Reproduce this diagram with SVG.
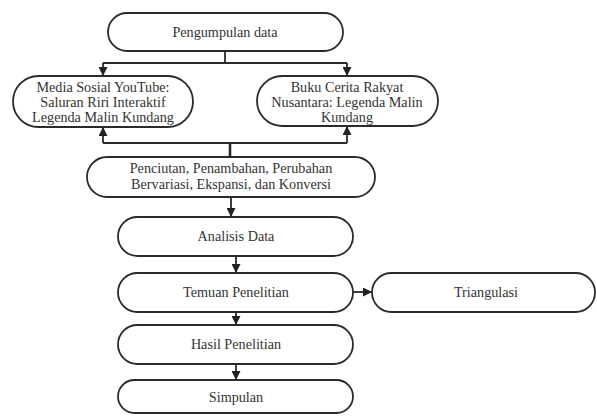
<svg xmlns="http://www.w3.org/2000/svg" width="597" height="416" viewBox="0 0 597 416">
<defs>
<marker id="ah" viewBox="0 0 10 10" refX="10" refY="5" markerWidth="5" markerHeight="5" orient="auto" markerUnits="strokeWidth">
<path d="M0,0 L10,5 L0,10 z" fill="#222"/>
</marker>
<style>
.n rect{fill:#fff;stroke:#2a2a2a;stroke-width:1.8}
.n text{font-family:"Liberation Serif","DejaVu Serif",serif;font-size:14.2px;fill:#333;text-anchor:middle}
.c path{fill:none;stroke:#2a2a2a;stroke-width:1.8}
</style>
</defs>
<rect width="597" height="416" fill="#fff"/>
<g class="c">
<path d="M225,51 V63"/>
<path d="M103,63 H347"/>
<path d="M103,63 V76" marker-end="url(#ah)"/>
<path d="M347,63 V76" marker-end="url(#ah)"/>
<path d="M103,143 V127" marker-end="url(#ah)"/>
<path d="M347,143 V126" marker-end="url(#ah)"/>
<path d="M103,143 H347"/>
<path d="M230,143 V157" style="stroke-width:2.6"/>
<path d="M231,197 V217" marker-end="url(#ah)"/>
<path d="M236,256 V273" marker-end="url(#ah)"/>
<path d="M353,292 H372" marker-end="url(#ah)"/>
<path d="M236,312 V325" marker-end="url(#ah)"/>
<path d="M236,364 V380" marker-end="url(#ah)"/>
</g>
<g id="pengumpulan" class="n"><rect x="108" y="13" width="235" height="38" rx="19"/><text x="225" y="37">Pengumpulan data</text></g>
<g id="youtube" class="n"><rect x="13" y="76" width="180" height="51" rx="25.5"/><text x="103" y="92">Media Sosial YouTube:</text><text x="103" y="107">Saluran Riri Interaktif</text><text x="103" y="122">Legenda Malin Kundang</text></g>
<g id="buku" class="n"><rect x="257" y="76" width="181" height="50" rx="25"/><text x="347" y="92">Buku Cerita Rakyat</text><text x="347" y="107">Nusantara: Legenda Malin</text><text x="347" y="122">Kundang</text></g>
<g id="penciutan" class="n"><rect x="87" y="157" width="288" height="40" rx="20"/><text x="231" y="173">Penciutan, Penambahan, Perubahan</text><text x="231" y="189">Bervariasi, Ekspansi, dan Konversi</text></g>
<g id="analisis" class="n"><rect x="118" y="217" width="235" height="39" rx="19.5"/><text x="236" y="241">Analisis Data</text></g>
<g id="temuan" class="n"><rect x="118" y="273" width="235" height="39" rx="19.5"/><text x="236" y="297">Temuan Penelitian</text></g>
<g id="triangulasi" class="n"><rect x="372" y="273" width="223" height="39" rx="19.5"/><text x="486" y="297">Triangulasi</text></g>
<g id="hasil" class="n"><rect x="118" y="325" width="235" height="39" rx="19.5"/><text x="236" y="349">Hasil Penelitian</text></g>
<g id="simpulan" class="n"><rect x="118" y="380" width="235" height="33" rx="16.5"/><text x="236" y="402">Simpulan</text></g>
</svg>
